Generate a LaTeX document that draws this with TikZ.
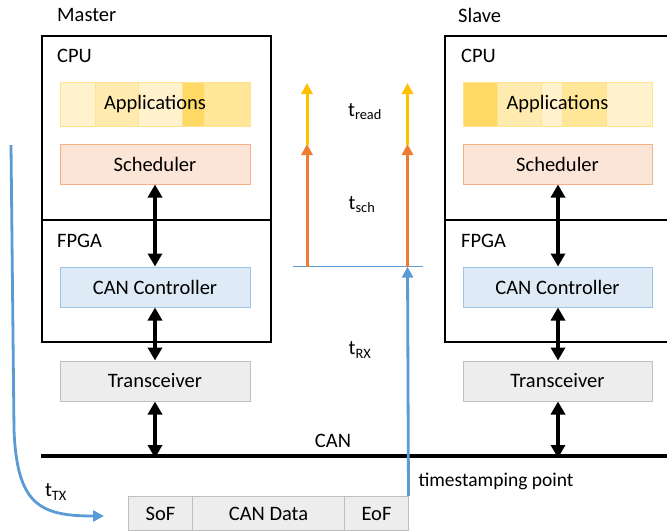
\documentclass[tikz,border=0pt]{standalone}
\usepackage{fontspec}
\setmainfont{Carlito}
\usetikzlibrary{arrows.meta}
\definecolor{appL}{HTML}{FFF2CC}
\definecolor{appM}{HTML}{FFE699}
\definecolor{appN}{HTML}{FFEBB0}
\definecolor{appD}{HTML}{FFD966}
\definecolor{appLine}{HTML}{FFE38F}
\definecolor{schFill}{HTML}{FBE5D6}
\definecolor{schLine}{HTML}{F4B183}
\definecolor{canFill}{HTML}{DEEBF7}
\definecolor{canLine}{HTML}{9DC3E6}
\definecolor{grFill}{HTML}{EDEDED}
\definecolor{grLine}{HTML}{BFBFBF}
\definecolor{myBlue}{HTML}{5B9BD5}
\definecolor{myOrange}{HTML}{ED7D31}
\definecolor{myYellow}{HTML}{FFC000}
\tikzset{
  outerbox/.style={draw=black, line width=2pt, minimum width=229pt, inner sep=0pt, anchor=north west},
  block/.style={line width=1pt, minimum width=190pt, minimum height=40pt, inner sep=0pt},
  schedbox/.style={block, fill=schFill, draw=schLine},
  canbox/.style={block, fill=canFill, draw=canLine},
  trxbox/.style={block, fill=grFill, draw=grLine},
  framebox/.style={line width=1pt, fill=grFill, draw=grLine, minimum height=34pt, inner sep=0pt, anchor=north west},
  appbox/.style={draw=appLine, line width=1pt, minimum width=190pt, minimum height=44pt, inner sep=0pt},
  seg/.style={draw=appLine, line width=0.8pt},
  lbl/.style={anchor=west, inner sep=0pt},
  dblarrow/.style={{Triangle[width=14pt,length=13pt]}-{Triangle[width=14pt,length=13pt]}, line width=4pt},
  orarrow/.style={-{Triangle[width=11pt,length=11pt]}, line width=3pt, draw=myOrange},
  yeparrow/.style={-{Triangle[width=11pt,length=11pt]}, line width=3pt, draw=myYellow},
  bluearrow/.style={-{Triangle[width=11pt,length=11pt]}, line width=2.8pt, draw=myBlue},
  subl/.style={inner sep=0pt}
}
\begin{document}
\begin{tikzpicture}[x=1pt,y=-1pt, font=\fontsize{20.5}{24}\selectfont]
\useasboundingbox (0,0) rectangle (667,531);
\clip (0,0) rectangle (667,531);

% ---------------- Master ----------------
\node[outerbox, minimum height=184pt] (mcpu) at (41,35) {};
\node[outerbox, minimum height=122pt] (mfpga) at (41,219) {};
\node[lbl] (mlabel) at (57,15) {Master};
\node[lbl] (mcpulbl) at (57,56) {CPU};
\node[lbl] (mfpgalbl) at (57,241) {FPGA};

\fill[appL] (60,82) rectangle (95,126);
\fill[appN] (95,82) rectangle (138,126);
\fill[appL] (138,82) rectangle (182,126);
\fill[appD] (182,82) rectangle (204,126);
\fill[appM] (204,82) rectangle (250,126);
\draw[seg] (95,82) -- (95,126) (138,82) -- (138,126) (182,82) -- (182,126) (204,82) -- (204,126);
\node[appbox] (mapp) at (155,104) {Applications};

\node[schedbox] (msch) at (155,164) {Scheduler};
\node[canbox] (mcan) at (155,287) {CAN Controller};
\node[trxbox] (mtrx) at (155,381) {Transceiver};

% ---------------- Slave ----------------
\node[outerbox, minimum width=240pt, minimum height=184pt] (scpu) at (444,35) {};
\node[outerbox, minimum width=240pt, minimum height=122pt] (sfpga) at (444,219) {};
\node[lbl] (slabel) at (458,15) {Slave};
\node[lbl] (scpulbl) at (461,56) {CPU};
\node[lbl] (sfpgalbl) at (461,241) {FPGA};

\fill[appD] (463,82) rectangle (497,126);
\fill[appN] (497,82) rectangle (541,126);
\fill[appL] (541,82) rectangle (562,126);
\fill[appM] (562,82) rectangle (606,126);
\fill[appL] (606,82) rectangle (652,126);
\draw[seg] (497,82) -- (497,126) (541,82) -- (541,126) (562,82) -- (562,126) (606,82) -- (606,126);
\node[appbox, minimum width=189pt] (sapp) at (557.5,104) {Applications};

\node[schedbox, minimum width=189pt] (ssch) at (557.5,164) {Scheduler};
\node[canbox, minimum width=189pt] (scan) at (557.5,287) {CAN Controller};
\node[trxbox, minimum width=189pt] (strx) at (557.5,381) {Transceiver};

% ---------------- CAN bus ----------------
\coordinate (busL) at (41,456);
\coordinate (busR) at (667,456);
\draw[line width=4.5pt] (busL) -- (busR);
\node (canlbl) at (333,441) {CAN};

% vertical double arrows
\draw[dblarrow] (msch.south) -- (mcan.north);
\draw[dblarrow] (mcan.south) -- (mtrx.north);
\draw[dblarrow] (mtrx.south) -- ([yshift=-2pt]mtrx.south |- busL);
\draw[dblarrow] ([xshift=0.5pt]ssch.south) -- ([xshift=0.5pt]scan.north);
\draw[dblarrow] ([xshift=0.5pt]scan.south) -- ([xshift=0.5pt]strx.north);
\draw[dblarrow] ([xshift=0.5pt]strx.south) -- ([xshift=0.5pt,yshift=-2pt]strx.south |- busL);

% ---------------- CAN frame ----------------
\node[framebox, minimum width=64pt] (sof) at (128,496) {SoF};
\node[framebox, minimum width=152pt] (cdata) at (192,496) {CAN Data};
\node[framebox, minimum width=64pt] (eof) at (344,496) {EoF};

% ---------------- timing ----------------
\coordinate (tsL) at (293,266.7);
\coordinate (tsR) at (423,266.7);
\draw[myBlue, line width=1pt] (tsL) -- (tsR);

\coordinate (o1b) at (307,266.7);
\coordinate (o1m) at (307,144);
\coordinate (o1t) at (307,83);
\coordinate (o2b) at (407.5,266.7);
\coordinate (o2m) at (407.5,144);
\coordinate (o2t) at (407.5,83);
\draw[orarrow] (o1b) -- (o1m);
\draw[yeparrow] ([yshift=-1pt]o1m) -- (o1t);
\draw[orarrow] (o2b) -- (o2m);
\draw[yeparrow] ([yshift=-1pt]o2m) -- (o2t);

\draw[bluearrow] ([xshift=-0.5pt]eof.north east) -- (o2b);

\node[subl] (tread) at (365,112) {t\textsubscript{read}};
\node[subl] (tsch) at (362,205) {t\textsubscript{sch}};
\node[subl] (trx) at (360,350) {t\textsubscript{RX}};
\node[subl] (ttx) at (56,492) {t\textsubscript{TX}};
\node[font=\fontsize{19.5}{23}\selectfont] (tsp) at (496,481) {timestamping point};

% transmit curve
\coordinate (txs) at (11,145);
\coordinate (txe) at (104,516);
\draw[bluearrow] (txs) -- (14,430) .. controls (17,505) and (40,516) .. (txe);
\end{tikzpicture}
\end{document}
